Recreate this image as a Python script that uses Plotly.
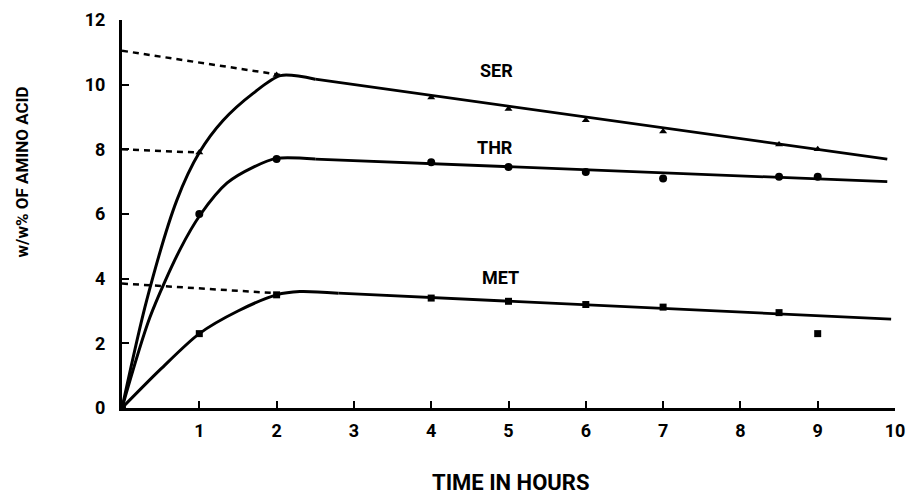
import plotly.graph_objects as go

# Measured points (markers)
hours = [0, 1, 2, 4, 5, 6, 7, 8.5, 9]
ser = [0, 7.9, 10.3, 9.6, 9.25, 8.9, 8.55, 8.15, 8.0]
thr = [0, 6.0, 7.7, 7.6, 7.45, 7.3, 7.1, 7.15, 7.15]
met = [0, 2.3, 3.5, 3.4, 3.3, 3.2, 3.12, 2.95, 2.3]

# Drawn rising curves
ser_rise_x = [0, 0.32, 0.71, 1.0, 1.31, 1.7, 2.05, 2.5]
ser_rise_y = [0, 3.34, 6.43, 7.9, 8.9, 9.74, 10.28, 10.17]
thr_rise_x = [0, 0.36, 0.75, 1.02, 1.36, 1.7, 2.0, 2.5]
thr_rise_y = [0, 2.8, 4.9, 6.0, 6.96, 7.45, 7.72, 7.7]
met_rise_x = [0, 0.5, 1.0, 1.5, 2.0, 2.3, 2.8]
met_rise_y = [0, 1.2, 2.3, 3.0, 3.5, 3.6, 3.55]

# Drawn straight decline lines
ser_fall_x = [2.5, 9.9]
ser_fall_y = [10.17, 7.7]
thr_fall_x = [2.5, 9.9]
thr_fall_y = [7.7, 7.0]
met_fall_x = [2.8, 9.95]
met_fall_y = [3.55, 2.75]

# Dashed extrapolations to zero time
ser_ext_x = [0, 2.05]
ser_ext_y = [11.05, 10.3]
thr_ext_x = [0, 1.0]
thr_ext_y = [8.0, 7.9]
met_ext_x = [0, 2.0]
met_ext_y = [3.85, 3.55]

labels = ["SER", "THR", "MET"]
label_x = [4.85, 4.83, 4.9]
label_y = [10.45, 8.07, 4.05]

x_ticks = list(range(1, 11))
y_ticks = list(range(0, 13, 2))

FONT = "Roboto, Liberation Sans, sans-serif"

fig = go.Figure()

for cx, cy in [(ser_rise_x, ser_rise_y), (thr_rise_x, thr_rise_y), (met_rise_x, met_rise_y)]:
    fig.add_trace(go.Scatter(x=cx, y=cy, mode="lines",
                             line=dict(color="black", width=3, shape="spline", smoothing=0.8),
                             hoverinfo="skip", showlegend=False))

for fx, fy in [(ser_fall_x, ser_fall_y), (thr_fall_x, thr_fall_y), (met_fall_x, met_fall_y)]:
    fig.add_trace(go.Scatter(x=fx, y=fy, mode="lines",
                             line=dict(color="black", width=2.8),
                             hoverinfo="skip", showlegend=False))

for ex, ey in [(ser_ext_x, ser_ext_y), (thr_ext_x, thr_ext_y), (met_ext_x, met_ext_y)]:
    fig.add_trace(go.Scatter(x=ex, y=ey, mode="lines",
                             line=dict(color="black", width=2.5, dash="6px,5px"),
                             hoverinfo="skip", showlegend=False))

fig.add_trace(go.Scatter(x=hours, y=ser, mode="markers", name="SER",
                         marker=dict(symbol="triangle-up", size=7, color="black"), showlegend=False))
fig.add_trace(go.Scatter(x=hours, y=thr, mode="markers", name="THR",
                         marker=dict(symbol="circle", size=8, color="black"), showlegend=False))
fig.add_trace(go.Scatter(x=hours, y=met, mode="markers", name="MET",
                         marker=dict(symbol="square", size=7, color="black"), showlegend=False))

for t, lx, ly in zip(labels, label_x, label_y):
    fig.add_annotation(x=lx, y=ly, text=t, showarrow=False,
                       font=dict(family=FONT, size=18, color="black", weight="bold"))

# Axis titles as annotations for exact placement
fig.add_annotation(xref="paper", yref="paper", x=0.502, y=-0.193, text="TIME IN HOURS",
                   showarrow=False, xanchor="center", yanchor="middle",
                   font=dict(family=FONT, size=22, color="black", weight="bold"))
fig.add_annotation(xref="paper", yref="paper", x=-0.129, y=0.608, text="w/w% OF AMINO ACID",
                   showarrow=False, textangle=-90, xanchor="center", yanchor="middle",
                   font=dict(family=FONT, size=17, color="black", weight="bold"))

fig.update_layout(
    width=906, height=498,
    margin=dict(l=122, r=11, t=20, b=90, autoexpand=False),
    paper_bgcolor="white", plot_bgcolor="white",
    font=dict(family=FONT, size=16, color="black", weight="bold"),
    xaxis=dict(range=[0, 10], tickvals=x_ticks, ticktext=[str(v) for v in x_ticks],
               showline=True, linecolor="black", linewidth=3, ticks="inside", ticklen=7,
               tickwidth=2, tickcolor="black", showgrid=False, zeroline=False,
               automargin=False, ticklabelstandoff=4, ticklabeloverflow="allow",
               tickfont=dict(family=FONT, size=18, weight="bold")),
    yaxis=dict(range=[0, 12], tickvals=y_ticks, ticktext=[str(v) for v in y_ticks],
               showline=True, linecolor="black", linewidth=3, ticks="inside", ticklen=7,
               tickwidth=2, tickcolor="black", showgrid=False, zeroline=False,
               automargin=False, ticklabelstandoff=10, ticklabeloverflow="allow",
               tickfont=dict(family=FONT, size=18, weight="bold")),
)

fig.write_html("out.html", config={"displayModeBar": False},
               post_script="document.body.style.margin='0px';document.body.style.overflow='hidden';")
